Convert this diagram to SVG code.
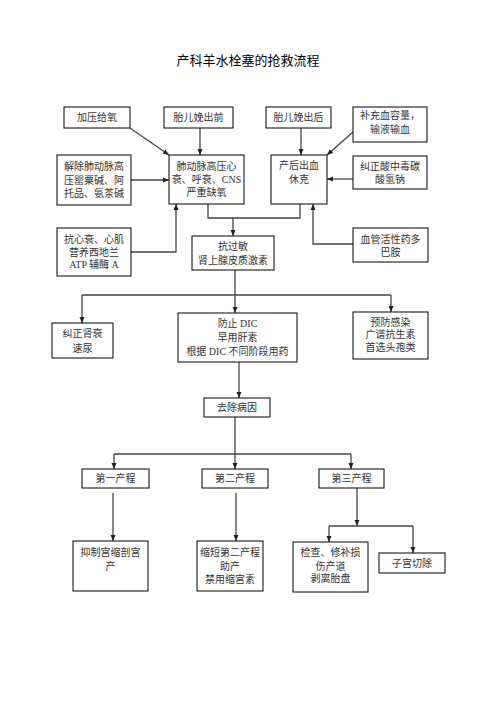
<svg xmlns="http://www.w3.org/2000/svg" width="496" height="702" viewBox="0 0 496 702">
<style>
.b{fill:#fff;stroke:#000;stroke-width:1}
.t{font-family:"Liberation Serif","Noto Sans CJK SC",serif;font-size:10px;fill:#333;text-anchor:middle}
.title{font-family:"Noto Sans CJK SC",sans-serif;font-size:13px;fill:#000;text-anchor:middle}
.c{fill:none;stroke:#444;stroke-width:1.3}
.a{marker-end:url(#arr)}
</style>
<defs>
<marker id="arr" markerUnits="userSpaceOnUse" markerWidth="6" markerHeight="6" viewBox="0 0 6 6" refX="6" refY="3" orient="auto">
<path d="M0,0.5 L6,3 L0,5.5 Z" fill="#222"/>
</marker>
</defs>
<rect width="496" height="702" fill="#fff"/>
<text class="title" x="248" y="64.5">产科羊水栓塞的抢救流程</text>

<g id="connectors">
<path class="c a" d="M130,128 L169,155"/>
<path class="c a" d="M200,128 L200,155"/>
<path class="c a" d="M131,180 L169,180"/>
<path class="c a" d="M131,252 L176,252 L176,204"/>
<path class="c a" d="M301,128 L301,155"/>
<path class="c a" d="M353,132 L327,155"/>
<path class="c a" d="M353,179 L327,179"/>
<path class="c a" d="M353,244 L313,244 L313,204"/>
<path class="c" d="M208,204 L208,218 L300,218 L300,204"/>
<path class="c a" d="M233,218 L233,236"/>
<path class="c a" d="M235,270 L235,313"/>
<path class="c" d="M82,295 L391,295"/>
<path class="c a" d="M82,295 L82,323"/>
<path class="c a" d="M391,295 L391,312"/>
<path class="c a" d="M239,362 L239,398"/>
<path class="c a" d="M235,417 L235,469"/>
<path class="c" d="M114,454 L351,454"/>
<path class="c a" d="M114,454 L114,469"/>
<path class="c a" d="M351,454 L351,469"/>
<path class="c a" d="M113,493 L113,541"/>
<path class="c a" d="M236,493 L236,541"/>
<path class="c a" d="M357,488 L357,526"/>
<path class="c" d="M329,526 L413,526"/>
<path class="c a" d="M329,526 L329,542"/>
<path class="c a" d="M413,526 L413,553"/>
</g>

<g id="n1"><rect class="b" x="64" y="107" width="66" height="21"/><text class="t" x="97" y="121">加压给氧</text></g>
<g id="n2"><rect class="b" x="164" y="107" width="69" height="21"/><text class="t" x="198.5" y="121">胎儿娩出前</text></g>
<g id="n3"><rect class="b" x="266" y="107" width="65" height="21"/><text class="t" x="298.5" y="121">胎儿娩出后</text></g>
<g id="n4"><rect class="b" x="353" y="107" width="74" height="35"/><text class="t" x="390" y="118.5">补充血容量，</text><text class="t" x="390" y="132.5">输液输血</text></g>

<g id="n5"><rect class="b" x="57" y="155" width="74" height="50"/><text class="t" x="94" y="169.5">解除肺动脉高</text><text class="t" x="94" y="183.5">压罂粟碱、阿</text><text class="t" x="94" y="196.5">托品、氨茶碱</text></g>
<g id="n6"><rect class="b" x="169" y="155" width="75" height="49"/><text class="t" x="206.5" y="169.5">肺动脉高压心</text><text class="t" x="206.5" y="183">衰、呼衰、CNS</text><text class="t" x="206.5" y="196">严重缺氧</text></g>
<g id="n7"><rect class="b" x="271" y="155" width="56" height="49"/><text class="t" x="299" y="169">产后出血</text><text class="t" x="299" y="183">休克</text></g>
<g id="n8"><rect class="b" x="353" y="156" width="74" height="33"/><text class="t" x="390" y="170">纠正酸中毒碳</text><text class="t" x="390" y="183">酸氢钠</text></g>

<g id="n9"><rect class="b" x="57" y="228" width="74" height="48"/><text class="t" x="94" y="242.5">抗心衰、心肌</text><text class="t" x="94" y="255.5">营养西地兰</text><text class="t" x="94" y="267.5">ATP 辅酶 A</text></g>
<g id="n10"><rect class="b" x="192" y="236" width="82" height="34"/><text class="t" x="233" y="249.5">抗过敏</text><text class="t" x="233" y="263.5">肾上腺皮质激素</text></g>
<g id="n11"><rect class="b" x="353" y="228" width="75" height="34"/><text class="t" x="390.5" y="242.5">血管活性药多</text><text class="t" x="390.5" y="255.5">巴胺</text></g>

<g id="n12"><rect class="b" x="52" y="323" width="61" height="35"/><text class="t" x="82.5" y="336.5">纠正肾衰</text><text class="t" x="82.5" y="351.5">速尿</text></g>
<g id="n13"><rect class="b" x="178" y="313" width="119" height="49"/><text class="t" x="237.5" y="326.5">防止 DIC</text><text class="t" x="237.5" y="340.5">早用肝素</text><text class="t" x="237.5" y="354.5">根据 DIC 不同阶段用药</text></g>
<g id="n14"><rect class="b" x="353" y="312" width="75" height="47"/><text class="t" x="390.5" y="325.5">预防感染</text><text class="t" x="390.5" y="337.5">广谱抗生素</text><text class="t" x="390.5" y="350.5">首选头孢类</text></g>

<g id="n15"><rect class="b" x="204" y="398" width="66" height="19"/><text class="t" x="237" y="411">去除病因</text></g>

<g id="n16"><rect class="b" x="82" y="469" width="67" height="19"/><text class="t" x="115.5" y="482">第一产程</text></g>
<g id="n17"><rect class="b" x="202" y="469" width="66" height="19"/><text class="t" x="235" y="482">第二产程</text></g>
<g id="n18"><rect class="b" x="319" y="469" width="65" height="19"/><text class="t" x="351.5" y="482">第三产程</text></g>

<g id="n19"><rect class="b" x="73" y="541" width="75" height="50"/><text class="t" x="110.5" y="555.5">抑制宫缩剖宫</text><text class="t" x="110.5" y="569.5">产</text></g>
<g id="n20"><rect class="b" x="197" y="541" width="66" height="50"/><text class="t" x="230" y="555.5">缩短第二产程</text><text class="t" x="230" y="569.5">助产</text><text class="t" x="230" y="582.5">禁用缩宫素</text></g>
<g id="n21"><rect class="b" x="293" y="542" width="75" height="50"/><text class="t" x="330.5" y="555.5">检查、修补损</text><text class="t" x="330.5" y="569.5">伤产道</text><text class="t" x="330.5" y="581.5">剥离胎盘</text></g>
<g id="n22"><rect class="b" x="379" y="553" width="66" height="20"/><text class="t" x="412" y="566.5">子宫切除</text></g>
</svg>
